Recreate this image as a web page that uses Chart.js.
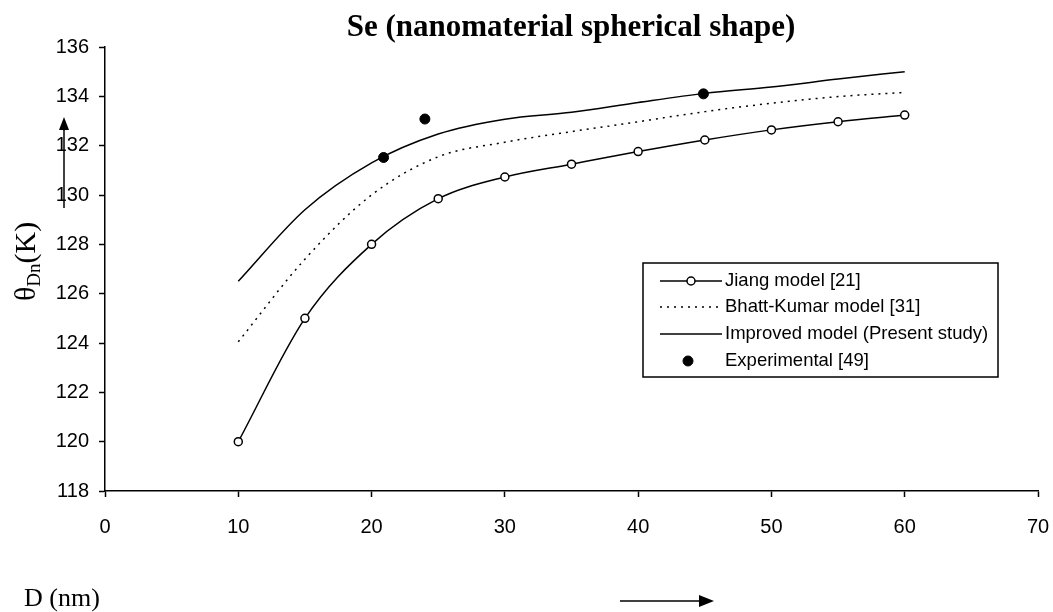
<!DOCTYPE html>
<html>
<head>
<meta charset="utf-8">
<script src="https://cdn.jsdelivr.net/npm/chart.js@4/dist/chart.umd.min.js"></script>
<style>
  html, body { margin: 0; padding: 0; background: #fff; }
  #wrap { width: 1053px; height: 612px; }
</style>
</head>
<body>
<div id="wrap"><canvas id="chart" width="1053" height="612"></canvas></div>
<script>
// Particle size D (nm) used by the three models
const sizes = [10, 15, 20, 25, 30, 35, 40, 45, 50, 55, 60];

// Debye temperature values (K)
const jiang = [120.0, 125.0, 128.0, 129.85, 130.73, 131.25, 131.76, 132.23, 132.64, 132.97, 133.24];
const bhattKumar = [124.05, 127.4, 130.0, 131.55, 132.14, 132.57, 132.97, 133.38, 133.72, 133.99, 134.16];
const improved = [126.5, 129.4, 131.3, 132.47, 133.07, 133.35, 133.75, 134.12, 134.38, 134.7, 135.0];

// Experimental points
const expD = [20.9, 24.0, 44.9];
const expTheta = [131.52, 133.08, 134.1];

const legendLabels = ["Jiang model [21]", "Bhatt-Kumar model [31]", "Improved model (Present study)", "Experimental [49]"];

function toPoints(xs, ys) {
  return xs.map((x, i) => ({ x: x, y: ys[i] }));
}

// Title, axis captions, arrows and the boxed legend
const decorPlugin = {
  id: "decor",
  afterDraw(chart) {
    const ctx = chart.ctx;
    ctx.save();
    ctx.fillStyle = "#000";
    ctx.strokeStyle = "#000";

    // title
    ctx.font = "bold 31px 'Liberation Serif'";
    ctx.textAlign = "center";
    ctx.textBaseline = "alphabetic";
    ctx.fillText("Se (nanomaterial spherical shape)", 571, 36);

    // x caption
    ctx.font = "26px 'Liberation Serif'";
    ctx.textAlign = "left";
    ctx.fillText("D (nm)", 24, 606);

    // y caption, rotated
    ctx.save();
    ctx.translate(35, 301);
    ctx.rotate(-Math.PI / 2);
    ctx.textAlign = "left";
    ctx.font = "30px 'Liberation Serif'";
    ctx.fillText("\u03b8", 0, 0);
    let w = ctx.measureText("\u03b8").width;
    ctx.font = "19px 'Liberation Serif'";
    ctx.fillText("Dn", w, 5);
    w += ctx.measureText("Dn").width;
    ctx.font = "30px 'Liberation Serif'";
    ctx.fillText("(K)", w, 0);
    ctx.restore();

    // up arrow
    ctx.lineWidth = 1.5;
    ctx.beginPath();
    ctx.moveTo(64, 208);
    ctx.lineTo(64, 126);
    ctx.stroke();
    ctx.beginPath();
    ctx.moveTo(64, 117);
    ctx.lineTo(59, 130);
    ctx.lineTo(69, 130);
    ctx.closePath();
    ctx.fill();

    // right arrow
    ctx.beginPath();
    ctx.moveTo(620, 601);
    ctx.lineTo(702, 601);
    ctx.stroke();
    ctx.beginPath();
    ctx.moveTo(714, 601);
    ctx.lineTo(699, 595);
    ctx.lineTo(699, 607);
    ctx.closePath();
    ctx.fill();

    // legend box
    ctx.lineWidth = 1.5;
    ctx.strokeRect(643, 263, 355, 114);
    const rows = [281, 307, 334, 361];
    ctx.font = "18.5px 'Liberation Sans'";
    ctx.textBaseline = "middle";
    chart.data.datasets.forEach((ds, i) => {
      const y = rows[i];
      ctx.fillStyle = "#000";
      ctx.fillText(legendLabels[i], 725, y);
      if (ds.showLine !== false) {
        ctx.save();
        ctx.lineWidth = ds.borderWidth;
        ctx.setLineDash(ds.borderDash || []);
        ctx.beginPath();
        ctx.moveTo(660, y);
        ctx.lineTo(722, y);
        ctx.stroke();
        ctx.restore();
      }
      if (ds.pointRadius > 0) {
        ctx.beginPath();
        ctx.arc(i === 3 ? 688 : 691, y, ds.pointRadius, 0, Math.PI * 2);
        ctx.fillStyle = ds.pointBackgroundColor;
        ctx.fill();
        ctx.lineWidth = ds.pointBorderWidth;
        ctx.stroke();
      }
    });
    ctx.restore();
  }
};

const ctx = document.getElementById("chart").getContext("2d");

new Chart(ctx, {
  type: "line",
  data: {
    datasets: [
      {
        label: legendLabels[0],
        data: toPoints(sizes, jiang),
        borderColor: "#000",
        borderWidth: 1.5,
        cubicInterpolationMode: "monotone",
        pointRadius: 4,
        pointBackgroundColor: "#fff",
        pointBorderColor: "#000",
        pointBorderWidth: 1.5,
      },
      {
        label: legendLabels[1],
        data: toPoints(sizes, bhattKumar),
        borderColor: "#000",
        borderWidth: 1.5,
        borderDash: [2, 5],
        cubicInterpolationMode: "monotone",
        pointRadius: 0,
      },
      {
        label: legendLabels[2],
        data: toPoints(sizes, improved),
        borderColor: "#000",
        borderWidth: 1.5,
        cubicInterpolationMode: "monotone",
        pointRadius: 0,
      },
      {
        label: legendLabels[3],
        data: toPoints(expD, expTheta),
        showLine: false,
        borderColor: "#000",
        pointRadius: 5,
        pointBackgroundColor: "#000",
        pointBorderColor: "#000",
        pointBorderWidth: 1,
      },
    ],
  },
  options: {
    responsive: false,
    animation: false,
    layout: { padding: { left: 0, top: 47, right: 15, bottom: 0 } },
    plugins: {
      legend: { display: false },
      tooltip: { enabled: false },
    },
    scales: {
      x: {
        type: "linear",
        min: 0,
        max: 70,
        ticks: {
          stepSize: 10,
          color: "#000",
          padding: 18,
          font: { family: "'Liberation Sans'", size: 20 },
        },
        grid: { drawOnChartArea: false, color: "#000", tickLength: 6, tickWidth: 1.5 },
        border: { color: "#000", width: 1.5 },
        afterFit(scale) {
          scale.height = 121;
          scale.paddingLeft = 0;
          scale.paddingRight = 0;
        },
      },
      y: {
        min: 118,
        max: 136,
        ticks: {
          stepSize: 2,
          color: "#000",
          padding: 10,
          font: { family: "'Liberation Sans'", size: 20 },
        },
        grid: { drawOnChartArea: false, color: "#000", tickLength: 6, tickWidth: 1.5 },
        border: { color: "#000", width: 1.5 },
        afterFit(scale) { scale.width = 105; },
      },
    },
  },
  plugins: [decorPlugin],
});
</script>
</body>
</html>
